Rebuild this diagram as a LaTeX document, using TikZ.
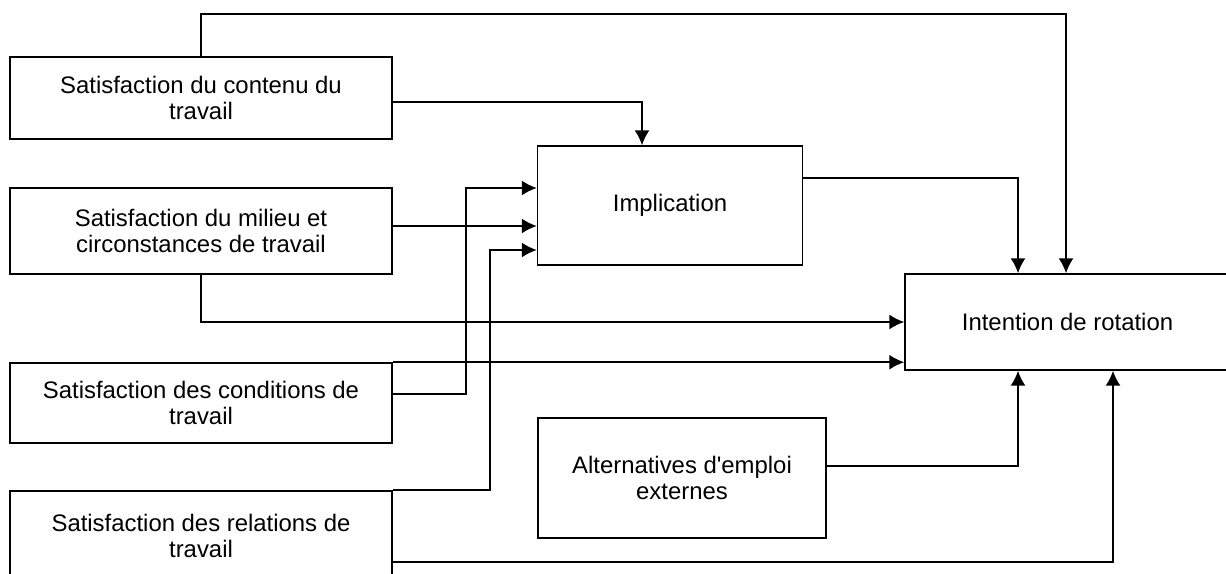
\documentclass[tikz,border=0pt]{standalone}
\usepackage{fontspec}
\setmainfont{Liberation Sans}
\usetikzlibrary{arrows.meta}
\tikzset{
  box/.style={draw,line width=0.9pt,align=center,inner sep=0pt,
    font=\fontsize{13.6pt}{14.8pt}\selectfont},
  leftbox/.style={box,minimum width=7.64cm},
}

\begin{document}
\begin{tikzpicture}[x=0.02cm,y=-0.02cm,line width=0.9pt,>={Latex[length=8.5pt,width=8.5pt]}]
        \useasboundingbox (0,0) rectangle (1226,574);

        % facteurs de satisfaction
        \node [leftbox,minimum height=1.64cm] (contenu) at (201,98) {Satisfaction du contenu du\\travail};
        \node [leftbox,minimum height=1.72cm] (milieu) at (201,231) {Satisfaction du milieu et\\circonstances de travail};
        \node [leftbox,minimum height=1.6cm] (conditions) at (201,403) {Satisfaction des conditions de\\travail};
        \node [leftbox,minimum height=1.8cm,anchor=north] (relations) at (201,490) {Satisfaction des relations de\\travail};

        \node [box,minimum width=5.3cm,minimum height=2.38cm] (implication) at (670,205.5) {Implication};
        \node [box,minimum width=5.76cm,minimum height=2.4cm] (alternatives) at (682,478) {Alternatives d\textquotesingle emploi\\externes};
        \node [box,minimum width=6.5cm,minimum height=1.92cm] (intention) at (1067.5,322) {Intention de rotation};

        % points de passage
        \coordinate (haut) at (1066,14);
        \coordinate (c1) at (642,102);
        \coordinate (c3) at (466,394);
        \coordinate (c4) at (490,250);
        \coordinate (i1) at (1018,178);
        \coordinate (a1) at (1018,466);
        \coordinate (r1) at (1113,562);

        % vers implication
        \draw [->] (contenu.east |- c1) -| (c1 |- implication.north);
        \draw [->] (milieu.east |- 0,226) -- (implication.west |- 0,226);
        \draw [->] (conditions.east |- c3) -| (466,188) -- (implication.west |- 0,188);
        \draw [->] (relations.north east) -| (c4) -- (implication.west |- c4);

        % vers intention
        \draw [->] (contenu.north) |- (haut) -- (haut |- intention.north);
        \draw [->] (implication.east |- i1) -| (i1 |- intention.north);
        \draw [->] (milieu.south) |- (intention.west);
        \draw [->] (conditions.north east) -- (conditions.north east -| intention.west);
        \draw [->] (alternatives.east |- a1) -| (a1 |- intention.south);
        \draw [->] (relations.east |- r1) -| (r1 |- intention.south);
      \end{tikzpicture}
\end{document}
